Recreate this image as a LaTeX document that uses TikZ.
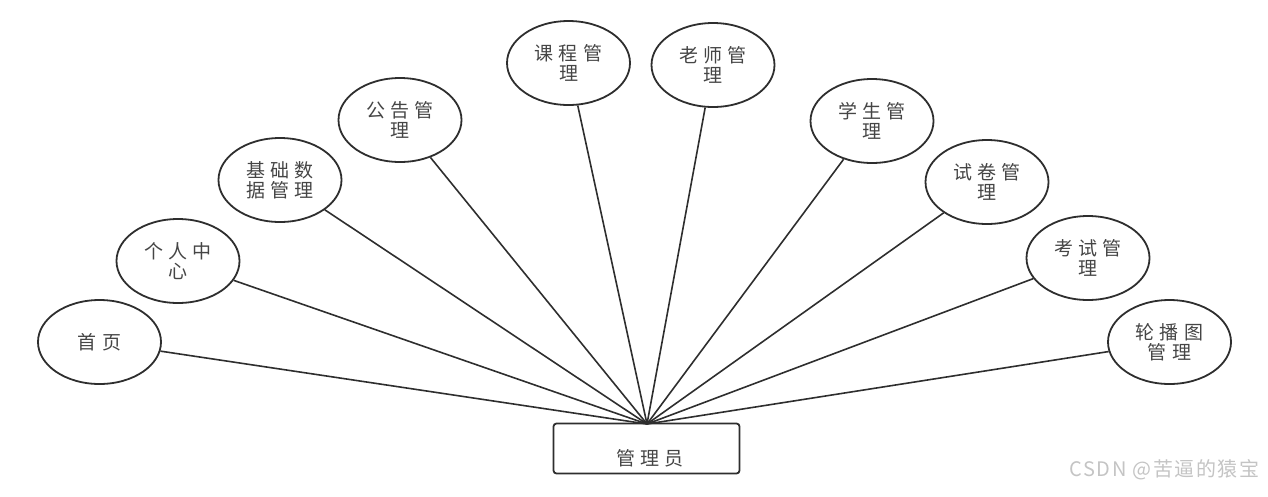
\documentclass[tikz,border=0pt]{standalone}
\usepackage{fontspec}
\usetikzlibrary{shapes.geometric}
\newfontfamily\cjk[LetterSpace=28]{Noto Sans CJK SC}
\newfontfamily\wmfont[LetterSpace=8]{Noto Sans CJK SC}
\definecolor{linec}{HTML}{2E2E2E}
\definecolor{textc}{HTML}{454545}
\definecolor{wmc}{HTML}{C4C4C4}
\tikzset{
  func/.style={ellipse, draw=linec, line width=1.8pt, minimum width=123pt, minimum height=84pt,
    inner sep=0pt, align=center, text=textc, font=\cjk\fontsize{19}{20}\selectfont},
  rolebox/.style={draw=linec, line width=1.8pt, rounded corners=3pt, minimum width=186pt, minimum height=50pt},
  roletext/.style={text=textc, font=\cjk\fontsize{19}{20}\selectfont},
  conn/.style={draw=linec, line width=1.6pt}
}
\begin{document}
\begin{tikzpicture}[x=1pt,y=-1pt]
\useasboundingbox (0,0) rectangle (1268,496);
\node[rolebox] (admin) at (646.5,448.5) {};
\node[roletext] (admintext) at (650,458) {管理员};
\coordinate (hub) at (647,424);
\node[func] (n1) at (99.5,342) {首页};
\node[func] (n2) at (178,261) {个人中\\心};
\node[func] (n3) at (280,180) {基础数\\据管理};
\node[func] (n4) at (400,120) {公告管\\理};
\node[func] (n5) at (568.5,63) {课程管\\理};
\node[func] (n6) at (713,65) {老师管\\理};
\node[func] (n7) at (872,121) {学生管\\理};
\node[func] (n8) at (987,182) {试卷管\\理};
\node[func] (n9) at (1088,258) {考试管\\理};
\node[func] (n10) at (1169.5,342) {轮播图\\管理};
\foreach \n in {n1,n2,n3,n4,n5,n6,n7,n8,n9,n10}
  \draw[conn] (hub) -- (\n);
\node[text=wmc, font=\wmfont\fontsize{20}{22}\selectfont, anchor=east] (wm) at (1263,470) {CSDN @苦逼的猿宝};
\end{tikzpicture}
\end{document}
